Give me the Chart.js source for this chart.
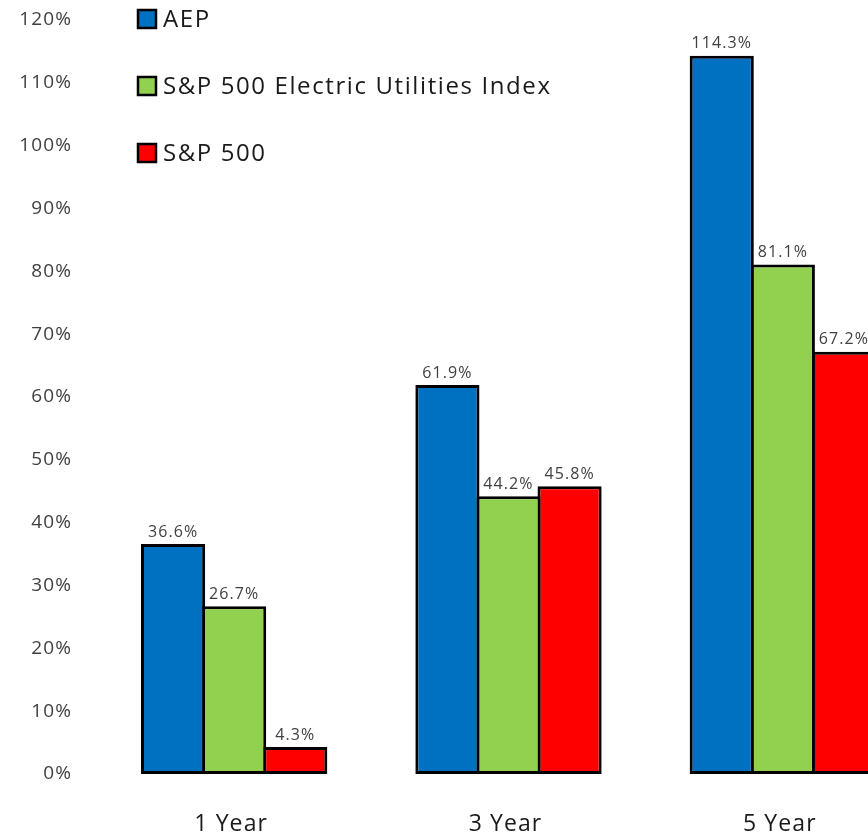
<!DOCTYPE html>
<html>
<head>
<meta charset="utf-8">
<script src="https://cdn.jsdelivr.net/npm/chart.js@4.4.0/dist/chart.umd.min.js"></script>
<style>
    html, body { margin: 0; padding: 0; background: #fff; overflow: hidden; }
    #wrap { width: 940px; height: 836px; }
</style>
</head>
<body>
<div id="wrap"><canvas id="returns"></canvas></div>
<script>
// Cumulative total shareholder return
const periods = ['1 Year', '3 Year', '5 Year'];
const seriesNames = ['AEP', 'S&P 500 Electric Utilities Index', 'S&P 500'];
const aepReturns = [36.6, 61.9, 114.3];
const utilitiesReturns = [26.7, 44.2, 81.1];
const sp500Returns = [4.3, 45.8, 67.2];
const seriesColors = ['#0070C0', '#92D050', '#FF0000'];

const FONT = '"Open Sans", sans-serif';
const TEXT = '#404040';

// Calibri-ish text is set wider than Open Sans, so open the spacing a bit
const spacing = {
    id: 'spacing',
    beforeLayout(chart) { chart.ctx.letterSpacing = '1.1px'; },
    beforeDraw(chart) { chart.ctx.letterSpacing = '1.1px'; }
};

// value labels above each bar
const valueLabels = {
    id: 'valueLabels',
    afterDatasetsDraw(chart) {
        const ctx = chart.ctx;
        ctx.save();
        ctx.font = '16px ' + FONT;
        ctx.fillStyle = TEXT;
        ctx.textAlign = 'center';
        ctx.textBaseline = 'bottom';
        chart.data.datasets.forEach((ds, i) => {
            chart.getDatasetMeta(i).data.forEach((bar, j) => {
                ctx.fillText(ds.data[j].toFixed(1) + '%', bar.x, bar.y - 4);
            });
        });
        ctx.restore();
    }
};

// legend stacked in the top-left of the plot
const cornerLegend = {
    id: 'cornerLegend',
    afterDraw(chart) {
        const ctx = chart.ctx;
        const x = 138;
        const rows = [19, 86, 153];
        ctx.save();
        ctx.font = '24px ' + FONT;
        ctx.letterSpacing = '1.6px';
        ctx.textBaseline = 'middle';
        chart.data.datasets.forEach((ds, i) => {
            const y = rows[i];
            ctx.fillStyle = ds.backgroundColor;
            ctx.fillRect(x, y - 9, 18, 18);
            ctx.lineWidth = 2.5;
            ctx.strokeStyle = '#000';
            ctx.strokeRect(x, y - 9, 18, 18);
            ctx.fillStyle = '#1a1a1a';
            ctx.fillText(ds.label, x + 25, y + 1);
        });
        ctx.restore();
    }
};

const seriesData = [aepReturns, utilitiesReturns, sp500Returns];

new Chart(document.getElementById('returns'), {
    type: 'bar',
    data: {
        labels: periods,
        datasets: seriesNames.map((name, i) => ({
            label: name,
            data: seriesData[i],
            backgroundColor: seriesColors[i],
            borderColor: '#000',
            borderWidth: 3,
            borderSkipped: false,
            categoryPercentage: 0.668,
            barPercentage: 1.05
        }))
    },
    options: {
        responsive: true,
        maintainAspectRatio: false,
        animation: false,
        layout: { padding: { top: 20, right: 20, bottom: 0, left: 0 } },
        plugins: {
            legend: { display: false },
            tooltip: { enabled: false }
        },
        scales: {
            x: {
                grid: { display: false, drawTicks: false },
                border: { display: false },
                afterFit(scale) { scale.height = 62; },
                ticks: {
                    color: '#1a1a1a',
                    font: { family: FONT, size: 23 },
                    padding: 37,
                    labelOffset: -3
                }
            },
            y: {
                min: 0,
                max: 120,
                grid: { display: false },
                border: { display: false },
                afterFit(scale) {
                    scale.width = 97;
                    scale.paddingTop = 0;
                    scale.paddingBottom = 0;
                },
                ticks: {
                    stepSize: 10,
                    color: TEXT,
                    padding: 17,
                    font: { family: FONT, size: 19 },
                    callback: v => v + '%'
                }
            }
        }
    },
    plugins: [spacing, valueLabels, cornerLegend]
});
</script>
</body>
</html>
